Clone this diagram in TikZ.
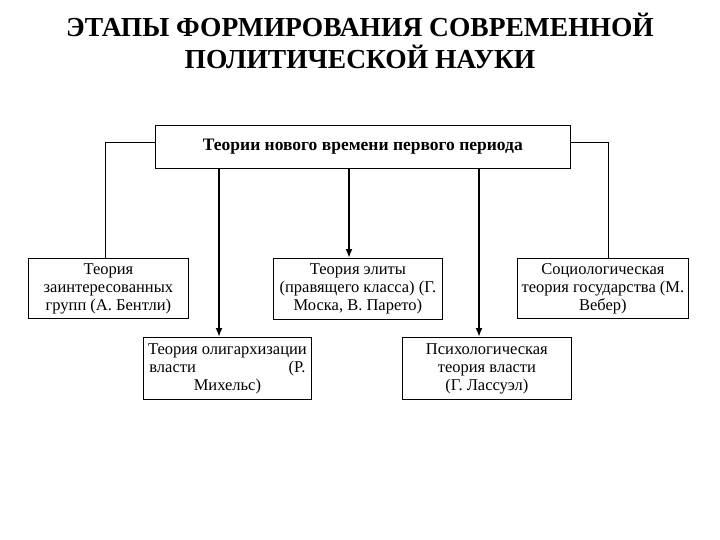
\documentclass[tikz,border=0pt]{standalone}
\usepackage{fontspec}
\usetikzlibrary{arrows.meta}
\setmainfont{Liberation Serif}
\begin{document}
\begin{tikzpicture}[x=1pt,y=-1pt,
  bx/.style={draw,line width=0.8pt,inner sep=0pt,font=\fontsize{16.5}{18}\selectfont,align=center},
  ln/.style={line width=1pt},
  ar/.style={line width=1.8pt,-{Latex[length=9pt,width=7pt]}}]
\useasboundingbox (0,0) rectangle (720,540);
\node[font=\fontsize{27.5}{32}\selectfont\bfseries,align=center] (t) at (360,41) {ЭТАПЫ ФОРМИРОВАНИЯ СОВРЕМЕННОЙ\\ПОЛИТИЧЕСКОЙ НАУКИ};
\node[bx,minimum width=415,minimum height=43,font=\fontsize{17.5}{20}\selectfont\bfseries,anchor=north west] (top) at (155,125) {Теории нового времени первого периода};
\node[bx,minimum width=160,minimum height=60,anchor=north west] (b1) at (28,258) {Теория\\заинтересованных\\групп (А. Бентли)};
\node[bx,minimum width=169,minimum height=61,anchor=north west] (b2) at (273,258) {Теория элиты\\(правящего класса) (Г.\\Моска, В. Парето)};
\node[bx,minimum width=171,minimum height=60,anchor=north west] (b3) at (517,258) {Социологическая\\теория государства (М.\\Вебер)};
\node[bx,minimum width=168,minimum height=62,anchor=north west] (b4) at (143,337) {Теория олигархизации\\\makebox[156pt]{власти\hfill(Р.}\\Михельс)};
\node[bx,minimum width=169,minimum height=62,anchor=north west] (b5) at (402,337) {Психологическая\\теория власти\\(Г. Лассуэл)};
\draw[ln] (top.west |- 0,143) -| (b1.north -| 105,0);
\draw[ln] (top.east |- 0,143) -| (b3.north -| 608,0);
\draw[ar] (top.south -| 219,0) -- (b4.north -| 219,0);
\draw[ar] (top.south -| 349,0) -- (b2.north -| 349,0);
\draw[ar] (top.south -| 479,0) -- (b5.north -| 479,0);
\end{tikzpicture}
\end{document}
